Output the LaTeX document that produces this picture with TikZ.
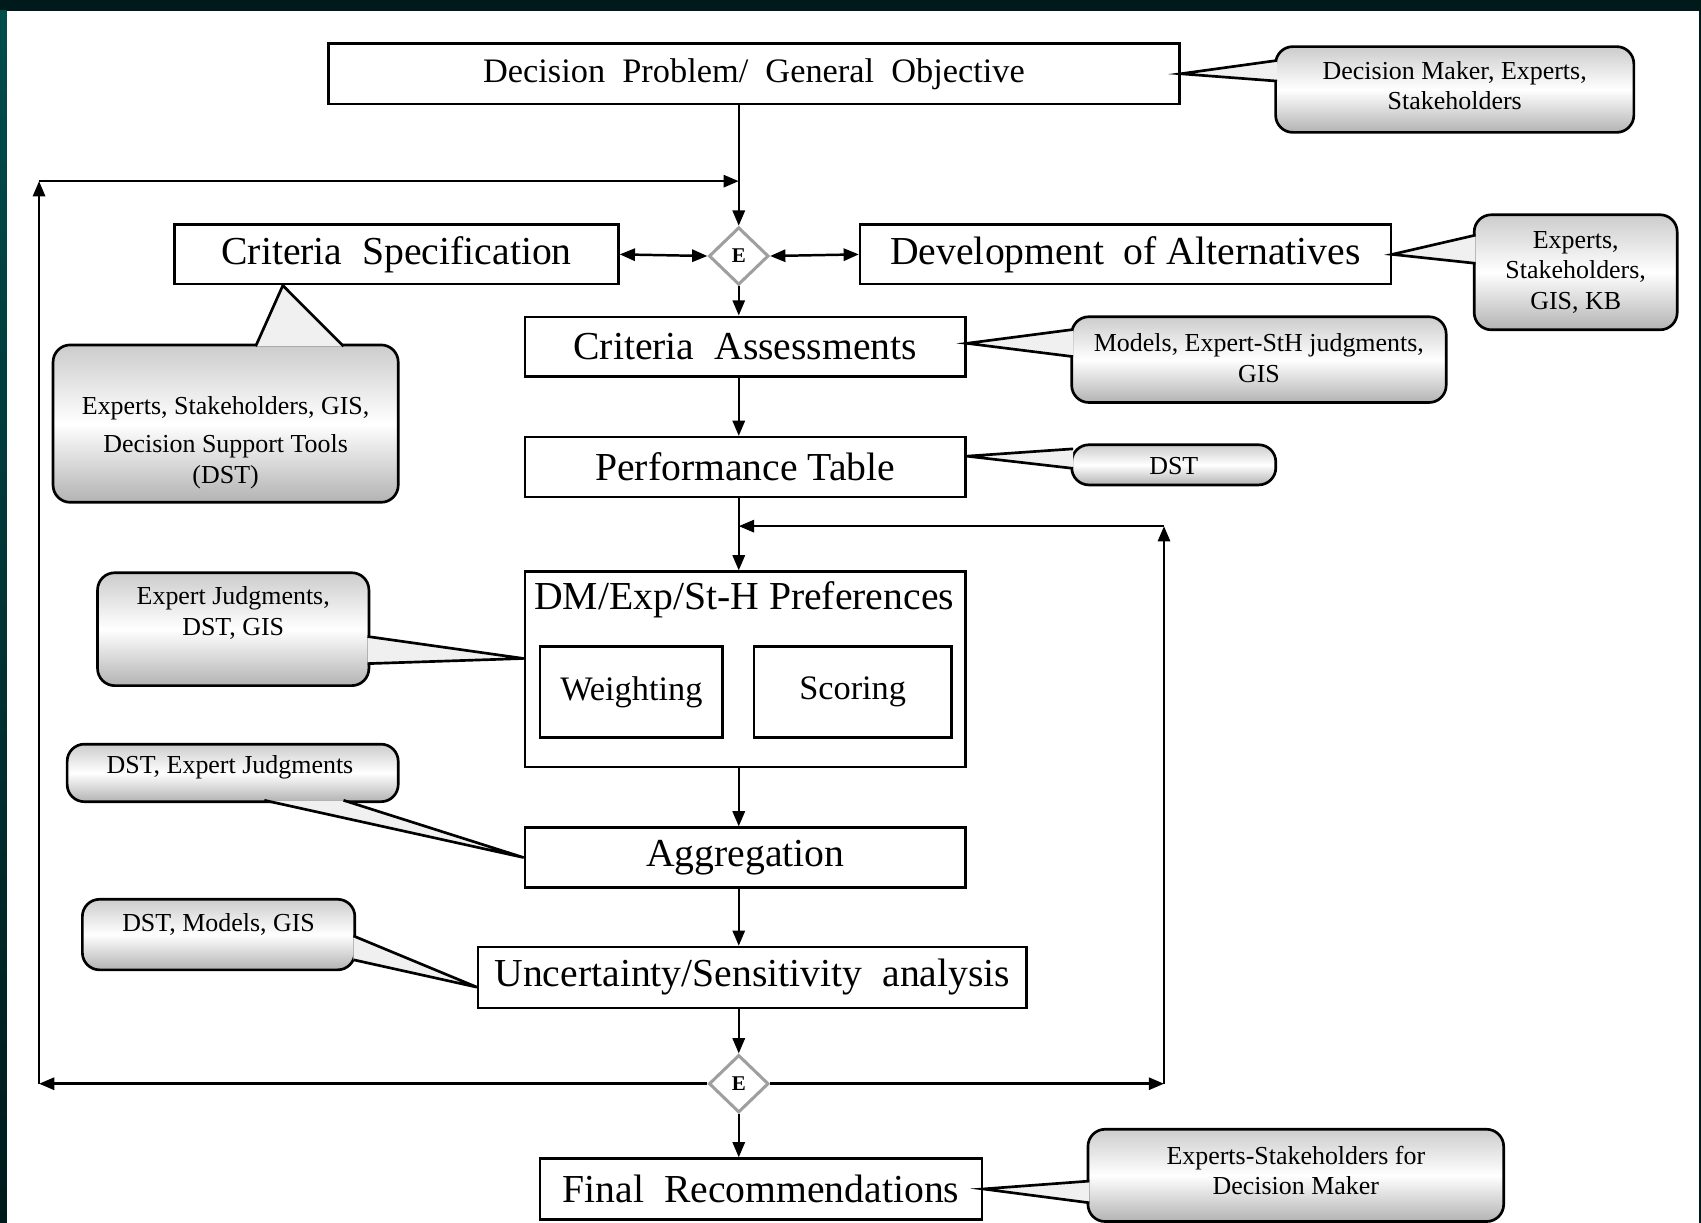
\documentclass[tikz,border=0pt]{standalone}
\usepackage{fontspec}
\setmainfont{Liberation Serif}
\usetikzlibrary{arrows.meta,shapes.geometric,calc}

\definecolor{framedark}{HTML}{001A1C}
\definecolor{frameteal}{HTML}{00605F}

\begin{document}
\begin{tikzpicture}[x=0.01cm,y=-0.01cm,line width=.65pt,
		>={Triangle[length=4pt,width=3.2pt]},
		stage/.style={draw,inner sep=0pt,minimum height=.55cm,font=\fontsize{10.4}{12}\selectfont},
		sub/.style={draw,inner sep=0pt,minimum height=.84cm,font=\fontsize{9}{11}\selectfont},
		gate/.style={diamond,draw=gray!75,line width=.8pt,fill=white,inner sep=0pt,minimum width=.55cm,minimum height=.53cm,font=\fontsize{5.5}{6}\selectfont\bfseries},
		note/.style={draw,line width=.7pt,rounded corners=4.5pt,top color=gray!40,bottom color=gray!60,middle color=white,inner sep=0pt},
		notetext/.style={align=center,inner sep=0pt,font=\fontsize{6.8}{8}\selectfont},
		pointer/.style={fill=gray!12,line width=.7pt}]
			\useasboundingbox (0,0) rectangle (1568,1127);
			% slide frame
			\fill[framedark] (0,0) rectangle (1568,1127);
			\shade[top color=frameteal!80!black,middle color=frameteal,bottom color=framedark] (0,10) rectangle (6,1127);
			\fill[white] (6,10) rectangle (1566,1127);
			
			% main chain
			\node[stage,minimum width=7.84cm,minimum height=.56cm,font=\fontsize{9}{11}\selectfont] (problem) at (695,68) {Decision\ \ Problem/\ \ General\ \ Objective};
			\node[gate] (e1) at (681,236) {E};
			\node[stage,minimum width=4.09cm] (spec) at (365.5,234.5) {Criteria\ \ Specification};
			\node[stage,minimum width=4.89cm] (altdev) at (1037.5,234.5) {Development\ \ of Alternatives};
			\node[stage,minimum width=4.06cm] (assess) at (687,319.5) {Criteria\ \ Assessments};
			\node[stage,minimum width=4.06cm] (table) at (687,430.5) {Performance Table};
			\node[draw,minimum width=4.06cm,minimum height=1.8cm] (pref) at (687,617) {};
			\node[inner sep=0pt,font=\fontsize{10.4}{12}\selectfont] (preftitle) at (686,553) {DM/Exp/St-H Preferences};
			\node[sub,minimum width=1.68cm] (weight) at (582,638) {Weighting};
			\node[sub,minimum width=1.82cm] (score) at (786,638) {Scoring};
			\node[stage,minimum width=4.06cm] (agg) at (687,790.5) {Aggregation};
			\node[stage,minimum width=5.05cm,minimum height=.56cm] (unc) at (693.5,901) {Uncertainty/Sensitivity\ \ analysis};
			\node[gate] (e2) at (681,999) {E};
			\node[stage,minimum width=4.07cm,minimum height=.56cm] (final) at (701.5,1096) {Final\ \ Recommendations};
			
			% arrows along the spine
			\draw[->] (problem.south -| e1) -- (e1.north);
			\draw[<->] (spec.east) -- (e1.west);
			\draw[<->] (altdev.west) -- (e1.east);
			\draw[->] (e1.south) -- (assess.north -| e1);
			\draw[->] (assess.south -| e1) -- (table.north -| e1);
			\draw[->] (table.south -| e1) -- (pref.north -| e1);
			\draw[->] (pref.south -| e1) -- (agg.north -| e1);
			\draw[->] (agg.south -| e1) -- (unc.north -| e1);
			\draw[->] (unc.south -| e1) -- (e2.north);
			\draw[->] (e2.south) -- (final.north -| e2);
			
			% feedback loops
			\coordinate (ltop) at (36,167);
			\coordinate (lbot) at (ltop |- e2);
			\coordinate (rtop) at (1073,485);
			\coordinate (rbot) at (rtop |- e2);
			\draw[->] (e2.west) -- (lbot);
			\draw[->] (lbot) -- (ltop);
			\draw[->] (ltop) -- (ltop -| e1);
			\draw[->] (e2.east) -- (rbot);
			\draw[->] (rbot) -- (rtop);
			\draw[->] (rtop) -- (rtop -| e1);
			
			% callouts
			\node[note,minimum width=3.30cm,minimum height=.79cm] (dmnote) at (1341,82.5) {};
			\node[notetext] (dmtext) at (1341,79) {Decision Maker, Experts,\\Stakeholders};
			\filldraw[pointer] ($(dmnote.north west)+(2.5,14)$) -- (problem.east) -- ($(dmnote.north west)+(2.5,33)$);
			
			\node[note,minimum width=1.87cm,minimum height=1.06cm] (altnote) at (1452.5,251) {};
			\node[notetext] (alttext) at (1452.5,251) {Experts,\\Stakeholders,\\GIS, KB};
			\filldraw[pointer] ($(altnote.north west)+(2.5,20)$) -- (altdev.east) -- ($(altnote.north west)+(2.5,46)$);
			
			\node[note,minimum width=3.45cm,minimum height=.79cm] (assessnote) at (1160.5,331.5) {};
			\node[notetext] (assesstext) at (1160.5,330) {Models, Expert-StH judgments,\\GIS};
			\filldraw[pointer] ($(assessnote.north west)+(2.5,13)$) -- ($(assess.east)+(0,-3)$) -- ($(assessnote.north west)+(2.5,38)$);
			
			\node[note,minimum width=3.18cm,minimum height=1.45cm] (specnote) at (208,390.5) {};
			\node[notetext] (spectext) at (208,408) {Experts, Stakeholders, GIS,\\[2pt]Decision Support Tools\\(DST)};
			\filldraw[pointer] ($(specnote.north west)+(188,2.5)$) -- ($(spec.south west)+(101,0)$) -- ($(specnote.north west)+(269,2.5)$);
			
			\node[note,minimum width=1.88cm,minimum height=.37cm] (tablenote) at (1082,428.5) {};
			\node[notetext] (tabletext) at (1082,430) {DST};
			\filldraw[pointer] ($(tablenote.north west)+(2.5,5)$) -- ($(table.east)+(0,-10)$) -- ($(tablenote.north west)+(2.5,23)$);
			
			\node[note,minimum width=2.50cm,minimum height=1.04cm] (prefnote) at (215,580) {};
			\node[notetext] (preftext) at (215,565) {Expert Judgments,\\DST, GIS};
			\filldraw[pointer] ($(prefnote.north east)+(-2.5,60)$) -- ($(pref.west)+(0,-10)$) -- ($(prefnote.north east)+(-2.5,85)$);
			
			\node[note,minimum width=3.05cm,minimum height=.53cm] (aggnote) at (214.5,712.5) {};
			\node[notetext] (aggtext) at (212,707) {DST, Expert Judgments};
			\filldraw[pointer] ($(aggnote.south west)+(183,-2.5)$) -- (agg.west) -- ($(aggnote.south west)+(256,-2.5)$);
			
			\node[note,minimum width=2.51cm,minimum height=.65cm] (uncnote) at (201.5,861.5) {};
			\node[notetext] (unctext) at (201.5,852) {DST, Models, GIS};
			\filldraw[pointer] ($(uncnote.north east)+(-2.5,35)$) -- ($(unc.west)+(0,9)$) -- ($(uncnote.north east)+(-2.5,57)$);
			
			\node[note,minimum width=3.83cm,minimum height=.85cm] (finalnote) at (1194.5,1083.5) {};
			\node[notetext] (finaltext) at (1194.5,1079) {Experts-Stakeholders for\\Decision Maker};
			\filldraw[pointer] ($(finalnote.north west)+(2.5,49)$) -- (final.east) -- ($(finalnote.north west)+(2.5,69)$);
		\end{tikzpicture}
\end{document}
